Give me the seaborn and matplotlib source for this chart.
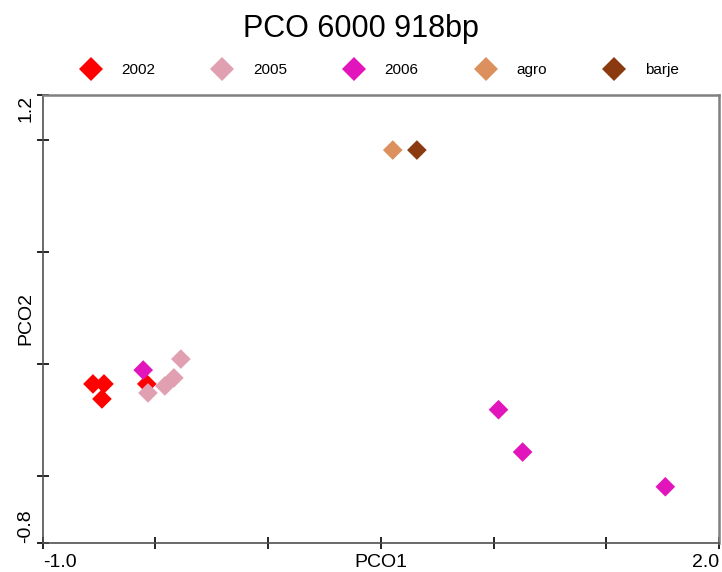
import matplotlib
matplotlib.use("Agg")
import matplotlib.pyplot as plt
import seaborn as sns
import pandas as pd

groups = ["2002", "2005", "2006", "agro", "barje"]
colors = ["#FF0000", "#E0A0B2", "#E214BC", "#DC905E", "#8B3A0F"]

grp = ["2002"] * 4 + ["2005"] * 4 + ["2006"] * 4 + ["agro", "barje"]
pco1 = [-0.777, -0.728, -0.737, -0.538,
        -0.533, -0.458, -0.418, -0.387,
        -0.554, 1.022, 1.129, 1.762,
        0.553, 0.660]
pco2 = [-0.090, -0.090, -0.157, -0.090,
        -0.130, -0.099, -0.063, 0.021,
        -0.028, -0.205, -0.394, -0.549,
        0.954, 0.954]

xticks = [-1.0, -0.5, 0.0, 0.5, 1.0, 1.5, 2.0]
xticklabels = ["-1.0", "", "", "PCO1", "", "", "2.0"]
yticks = [-0.8, -0.5, 0.0, 0.5, 1.0, 1.2]
yticklabels = ["-0.8", "", "", "", "", "1.2"]

df = pd.DataFrame({"PCO1": pco1, "PCO2": pco2, "group": grp})

sns.set_style("white")
plt.rcParams["font.family"] = ["Liberation Sans", "DejaVu Sans"]
plt.rcParams["text.color"] = "black"
plt.rcParams["axes.labelcolor"] = "black"

fig = plt.figure(figsize=(7.22, 5.72), dpi=100)
ax = fig.add_axes([0.0591, 0.0507, 0.9367, 0.7833])

sns.scatterplot(data=df, x="PCO1", y="PCO2", hue="group", hue_order=groups,
                palette=dict(zip(groups, colors)), marker="D", s=100,
                linewidth=0, ax=ax, legend=True, zorder=3)

ax.set_xlim(-1.0, 2.0)
ax.set_ylim(-0.8, 1.2)
ax.set_xticks(xticks)
ax.set_xticklabels(xticklabels, fontsize=14, color="black")
ax.set_yticks(yticks)
ax.set_yticklabels(yticklabels, fontsize=14, rotation=90, va="center", color="black")
xl = ax.get_xticklabels()
xl[0].set_ha("left")
xl[-1].set_ha("right")
yl = ax.get_yticklabels()
yl[0].set_va("bottom")
yl[-1].set_va("top")
ax.tick_params(axis="both", direction="inout", length=8, width=1.2,
               colors="black", bottom=True, left=True, pad=4)
ax.tick_params(axis="y", pad=2)
ax.set_xlabel("")
ax.set_ylabel("PCO2", fontsize=14, labelpad=-12, color="black")

for side in ["left", "bottom"]:
    ax.spines[side].set_color("#505050")
    ax.spines[side].set_linewidth(1.2)
for side in ["top", "right"]:
    ax.spines[side].set_color("#808080")
    ax.spines[side].set_linewidth(1.8)

fig.suptitle("PCO 6000 918bp", fontsize=22, y=0.975, color="black")

h, l = ax.get_legend_handles_labels()
ax.get_legend().remove()
leg = fig.legend(h, l, loc="center", bbox_to_anchor=(0.522, 0.877), ncol=5,
                 frameon=False, fontsize=11, markerscale=1.2,
                 handletextpad=1.0, columnspacing=3.4)
for t in leg.get_texts():
    t.set_color("black")

fig.savefig("out.png", dpi=100)
